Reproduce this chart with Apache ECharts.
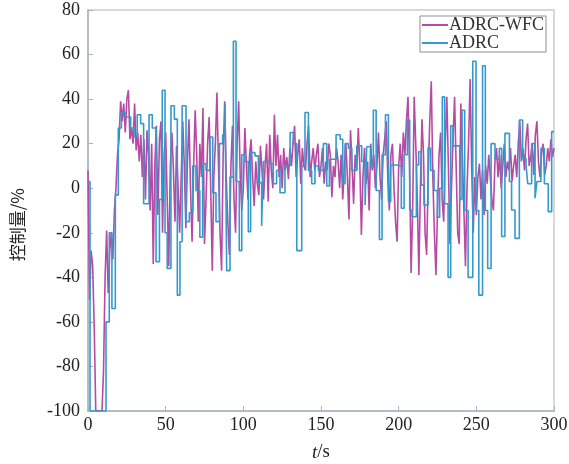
<!DOCTYPE html>
<html>
<head>
<meta charset="utf-8">
<script src="https://cdn.jsdelivr.net/npm/echarts@6/dist/echarts.min.js"></script>
<style>
  html, body { margin: 0; padding: 0; background: #fff; }
  #chart { width: 569px; height: 464px; }
</style>
</head>
<body>
<div id="chart"></div>
<script>
// Control output (%) of the two controllers over 0–300 s.

// ADRC-WFC: sampled once per second, t = 0 … 300
const wfcValues = [
  8, -50, -28, -35, -62, -100, -100, -100, -100, -100,
  -82, -40, -19, -47, -28, -20, -32, -10, 0, 15,
  22, 39, 30, 38, 25, 40, 44, 22, 27, 20,
  38, 17, 25, 12, 24, 5, 22, -5, 26, 15,
  -10, 20, -34, 10, 28, -12, 22, 30, -20, 15,
  25, -5, -35, 10, 25, 8, -15, 19, 0, -20,
  5, 30, 10, -18, 12, 31, 0, -24, 10, 35,
  15, -15, 20, 5, 36, -25, -5, 20, 32, 0,
  -37, 5, 20, 43, 10, -20, -37, 15, 39, 5,
  -15, -30, 10, 28, -5, -20, 20, 39, 5, -10,
  0, 27, 10, -5, 15, 22, 5, -8, 12, 2,
  -3, 19, 8, -5, 10, 20, -6, 24, 8, 0,
  33, 10, 24, 5, 15, 0, 18, 8, 14, 4,
  18, 10, 20, 28, 5, 15, 22, 2, 18, 10,
  8, 20, 28, 5, 12, 18, 8, 15, 20, 5,
  10, 18, 2, 12, 8, 20, 15, -4, 10, 5,
  18, 12, 0, 15, -5, 10, 20, 5, -14, 26,
  10, -7, 15, 8, 27, 10, -21, 5, 18, 2,
  12, -10, 20, 8, 15, 0, 10, 25, 5, -5,
  15, 22, 30, 5, -10, 15, 20, 0, -15, -24,
  10, 20, 5, 25, 15, 30, 41, 10, -38, -10,
  41, 20, -5, -39, 0, 31, 15, -20, -30, 5,
  30, 48, 5, -20, -39, -10, 15, 25, -5, -15,
  20, 41, 10, -25, 0, 22, 41, 10, -20, -25,
  38, 15, -10, -35, 0, 20, 49, 10, -20, 5,
  -12, 5, 11, -5, 8, -12, 10, 2, 15, 5,
  -5, -10, 12, 18, 5, 15, 0, 10, 20, 5,
  12, 8, 18, 3, 10, 15, 5, 20, 30, 12,
  18, 8, 22, 29, 10, 14, 20, 6, 24, 30,
  12, 5, 16, 20, 6, 10, 18, 12, 22, 14,
  18
];

// ADRC: zero-order hold, each value holds from its start time to the next one
const adrcTimes = [
  0, 1.3, 11.6, 13.7, 15.4, 17.6, 19.5, 21.5, 23.8, 27.5,
  29.6, 31.7, 33.9, 35.8, 39.3, 41.4, 43.8, 46, 47.8, 49.6,
  51, 53.4, 55.6, 57.5, 59.2, 60.6, 63.1, 65.2, 67.4, 69.5,
  72, 73.8, 76, 78.5, 80.3, 82.4, 84.6, 86.7, 88.2, 89.3,
  91.4, 93.6, 95.3, 97.4, 99, 101, 103.2, 104.7, 107.5, 109.7,
  111.8, 112.9, 117.2, 119.3, 121.4, 123.6, 126.8, 130.1, 132.2, 134.4,
  137.6, 139.7, 141.9, 144, 146.1, 148.3, 151.5, 153.7, 155.4, 159.7,
  162.3, 164, 165.5, 167.6, 169.8, 173, 176.2, 178.4, 179.4, 182,
  183.7, 185.5, 187.6, 189.3, 191.5, 193.4, 194.9, 199.6, 201.7, 203.5,
  205.6, 207.1, 208.6, 211.4, 212.9, 214.6, 216.3, 218.9, 220.6, 222.8,
  224.9, 226.4, 228.1, 229.6, 231.8, 233.5, 235, 239.3, 240.8, 242.5,
  244.7, 247.7, 249.8, 251.6, 254, 255.8, 257.3, 259.5, 262, 264.8,
  266.3, 268.4, 271.3, 272.7, 274.9, 277.7, 279.8, 282, 283.1, 285.6,
  287.8, 289, 291.6, 293.8, 296.3, 298.5, 300
];
const adrcValues = [
  3, -100, -60, -20, -54, -3, 27, 34, 32, 27,
  23, 33, 29, -7, 33, 27, -33, -5, 44, -20,
  -36, 37, 31, -48, -24, 37, -15, -11, 10, -1,
  -22, 11, 8, 23, -2, -15, 20, 24, 38, -37,
  5, 66, 3, -28, 15, 12, -19.5, 16, 14.5, 2.5,
  -17, 12, 11, 2, 8, -2, 10, 25, 20, -28,
  10, 34, 8, 2, 10, 8, 20, 1, 13, 24,
  22, 2, 20, 18, 8, 19, 12, -7.5, 18.6, 9.7,
  35, -1, -23, 15, 33, -6, 10.4, 9.7, -9, 15,
  30.6, -9.8, -12.8, 10.4, 16.4, 1.4, -7.5, 18, 8, -1,
  -13, 0, 41, -7, -40, 28, 19, -5, 35, -10,
  -40, 57, -10, -48, 55, -10, -36, 20, 13, 17.9,
  -21.7, 24.6, 3, -9.8, -22.5, 30.6, 13.4, 10.4, 2, 20,
  -4.5, 3, 17.9, 2, -10.5, 25.4, 25.4
];

const xTicks = { min: 0, max: 300, step: 50 };
const yTicks = { min: -100, max: 80, step: 20 };

const wfcData = wfcValues.map((v, i) => [i, v]);
const adrcData = adrcTimes.map((t, i) => [t, adrcValues[i]]);

const serif = '"Liberation Serif", "DejaVu Serif", serif';
const axisColor = '#a7b4c0';

const chart = echarts.init(document.getElementById('chart'), null, { renderer: 'canvas' });
chart.setOption({
  backgroundColor: '#ffffff',
  animation: false,
  grid: {
    left: 88, right: 15, top: 10, bottom: 53,
    containLabel: false,
    outerBoundsMode: 'none',
    show: true, borderColor: '#cccccc', borderWidth: 1.5
  },
  legend: {
    orient: 'vertical',
    right: 23, top: 16,
    itemWidth: 26, itemHeight: 2, itemGap: 0,
    icon: 'rect',
    padding: [0, 2, 0, 2],
    borderColor: '#8f8f8f', borderWidth: 1,
    backgroundColor: '#ffffff',
    textStyle: { fontFamily: serif, fontSize: 18, color: '#333', padding: [0, 0, 0, -4] },
    data: ['ADRC-WFC', 'ADRC']
  },
  xAxis: {
    type: 'value',
    min: xTicks.min, max: xTicks.max, interval: xTicks.step,
    name: '{i|t}/s',
    nameLocation: 'middle', nameGap: 32,
    nameTextStyle: {
      fontFamily: serif, fontSize: 19, color: '#222',
      rich: { i: { fontFamily: serif, fontSize: 19, fontStyle: 'italic', color: '#222' } }
    },
    axisLine: { onZero: false, lineStyle: { color: axisColor, width: 1.5 } },
    axisTick: { inside: true, length: 5, lineStyle: { color: axisColor } },
    axisLabel: { fontFamily: serif, fontSize: 18, color: '#222', margin: 5 },
    splitLine: { show: false }
  },
  yAxis: {
    type: 'value',
    min: yTicks.min, max: yTicks.max, interval: yTicks.step,
    axisLine: { show: true, onZero: false, lineStyle: { color: axisColor, width: 1.5 } },
    axisTick: { show: true, inside: true, length: 5, lineStyle: { color: axisColor } },
    axisLabel: { fontFamily: serif, fontSize: 18, color: '#222', margin: 8 },
    splitLine: { show: false }
  },
  graphic: [{
    type: 'text',
    left: 9, top: 188,
    rotation: Math.PI / 2,
    style: {
      text: '控制量/%',
      font: '17px "Noto Sans CJK SC", sans-serif',
      fill: '#222'
    }
  }],
  series: [
    {
      name: 'ADRC-WFC',
      type: 'line',
      data: wfcData,
      showSymbol: false,
      clip: true,
      lineStyle: { color: '#b74aa2', width: 1.6 },
      itemStyle: { color: '#b74aa2' }
    },
    {
      name: 'ADRC',
      type: 'line',
      step: 'end',
      data: adrcData,
      showSymbol: false,
      clip: true,
      lineStyle: { color: '#3599cc', width: 1.6 },
      itemStyle: { color: '#3599cc' }
    }
  ]
});
</script>
</body>
</html>
